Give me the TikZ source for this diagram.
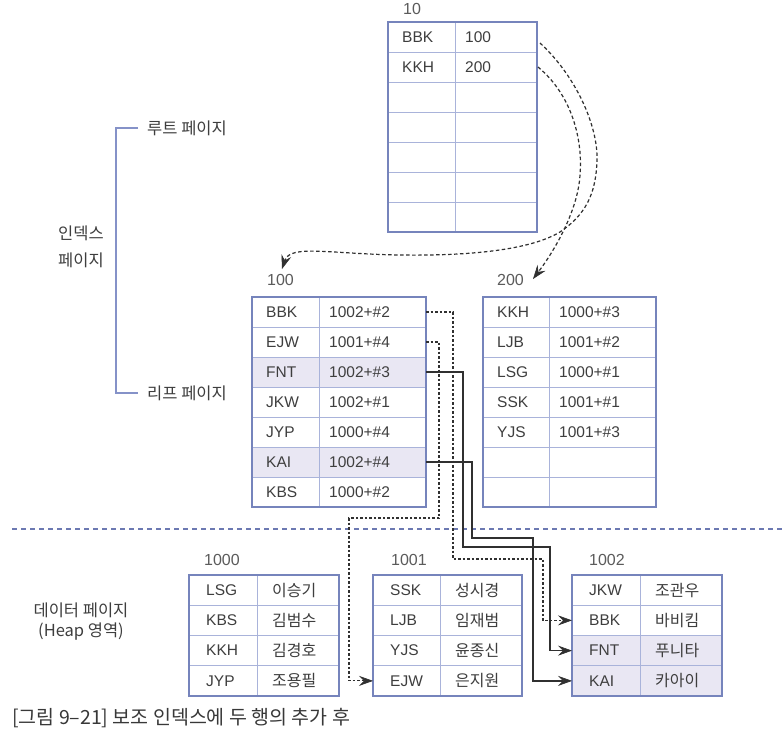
\documentclass[tikz,border=0pt]{standalone}
\usepackage{fontspec}
\setmainfont{Liberation Sans}
\newfontfamily\kr{Noto Sans CJK KR}
\usetikzlibrary{arrows.meta,calc}
\definecolor{gridout}{HTML}{7684BC}
\definecolor{gridin}{HTML}{A9B3DA}
\definecolor{hl}{HTML}{E9E7F3}
\definecolor{txt}{HTML}{3E3E3E}
\definecolor{conn}{HTML}{303030}
\definecolor{sep}{HTML}{6C79B2}
\definecolor{brk}{HTML}{8592C8}
\tikzset{
  >={Stealth[length=14pt,width=10pt,inset=5pt,fill=conn,line width=0.6pt]},
  rowcell/.style={rectangle, draw=gridin, line width=0.9pt, inner sep=0pt, outer sep=0pt},
  celltxt/.style={inner sep=0pt, text=txt, font=\fontsize{15.5}{18}\selectfont},
  plabel/.style={inner sep=0pt, text=txt!85, font=\fontsize{16}{18}\selectfont},
  side/.style={inner sep=0pt, text=txt, font=\kr\fontsize{16.5}{27}\selectfont, align=center},
  gridline/.style={draw=gridin, line width=0.9pt},
  outerline/.style={draw=gridout, line width=1.8pt},
  curveconn/.style={->, draw=conn, line width=1.2pt, dash pattern=on 3.5pt off 2.5pt},
  dconn/.style={->, draw=conn, line width=1.2pt, dash pattern=on 2.5pt off 2pt},
  sconn/.style={->, draw=conn, line width=1.5pt},
  sepline/.style={draw=sep, line width=1.5pt, dash pattern=on 5pt off 4pt},
  bracketline/.style={draw=brk, line width=1.2pt},
}
\newcommand{\pagetab}[8]{%
  \pgfmathsetmacro\rh{(#6-#3)/#7}%
  \foreach \a/\b/\c [count=\i] in {#8} {%
    \pgfmathsetmacro\yc{#3+(\i-0.5)*\rh}%
    \node[rowcell, fill=\c, minimum width={(#5-#2)*1pt}, minimum height={\rh*1pt}] (#1-\i) at ({(#2+#5)/2},\yc) {};
    \node[celltxt, anchor=west] at ({#2+\offa},\yc) {\a};
    \node[celltxt, anchor=west] at ({#4+\offb},\yc) {\b};
  }%
  \draw[gridline] (#4,#3) -- (#4,#6);
  \draw[outerline] (#2,#3) rectangle (#5,#6);
}
\begin{document}
\begin{tikzpicture}[x=1pt,y=-1pt]
\useasboundingbox[fill=white] (0,0) rectangle (782,732);

% index pages
\def\offa{14}\def\offb{10}
\pagetab{r10}{388}{22}{455}{537}{232}{7}{BBK/100/white, KKH/200/white, {}/{}/white, {}/{}/white, {}/{}/white, {}/{}/white, {}/{}/white}
\pagetab{l100}{252}{297}{319}{426}{507}{7}{BBK/1002+\#2/white, EJW/1001+\#4/white, FNT/1002+\#3/hl, JKW/1002+\#1/white, JYP/1000+\#4/white, KAI/1002+\#4/hl, KBS/1000+\#2/white}
\pagetab{l200}{483}{297}{549}{656}{507}{7}{KKH/1000+\#3/white, LJB/1001+\#2/white, LSG/1000+\#1/white, SSK/1001+\#1/white, YJS/1001+\#3/white, {}/{}/white, {}/{}/white}

% data pages
\def\offa{17}\def\offb{15}
\pagetab{d1000}{189}{575}{257}{339}{696}{4}{LSG/{\kr\fontsize{16}{18}\selectfont 이승기}/white, KBS/{\kr\fontsize{16}{18}\selectfont 김범수}/white, KKH/{\kr\fontsize{16}{18}\selectfont 김경호}/white, JYP/{\kr\fontsize{16}{18}\selectfont 조용필}/white}
\pagetab{d1001}{373}{575}{440}{522}{696}{4}{SSK/{\kr\fontsize{16}{18}\selectfont 성시경}/white, LJB/{\kr\fontsize{16}{18}\selectfont 임재범}/white, YJS/{\kr\fontsize{16}{18}\selectfont 윤종신}/white, EJW/{\kr\fontsize{16}{18}\selectfont 은지원}/white}
\pagetab{d1002}{572}{575}{640}{722}{696}{4}{JKW/{\kr\fontsize{16}{18}\selectfont 조관우}/white, BBK/{\kr\fontsize{16}{18}\selectfont 바비킴}/white, FNT/{\kr\fontsize{16}{18}\selectfont 푸니타}/hl, KAI/{\kr\fontsize{16}{18}\selectfont 카아이}/hl}

% page labels
\node[plabel, anchor=west] (lab10) at (403,9) {10};
\node[plabel, anchor=west] (lab100) at (267,280) {100};
\node[plabel, anchor=west] (lab200) at (497,280) {200};
\node[plabel, anchor=west] (lab1000) at (204,560) {1000};
\node[plabel, anchor=west] (lab1001) at (391,560) {1001};
\node[plabel, anchor=west] (lab1002) at (589,560) {1002};

% side labels
\node[side, anchor=west] (lroot) at (147,128) {루트 페이지};
\node[side, anchor=west] (lleaf) at (147,393) {리프 페이지};
\node[side] (lindex) at (81,247) {인덱스\\페이지};
\node[side, font=\kr\fontsize{16.5}{20}\selectfont] (ldata) at (81,622) {데이터 페이지\\(Heap 영역)};
\draw[bracketline] ([xshift=-9pt]lroot.west) -- (116,128) -- (116,393) -- ([xshift=-9pt]lleaf.west);

% separator
\draw[sepline] (12,529) -- (782,529);

% root -> leaf curves
\coordinate (t100) at (282,269);
\coordinate (t200) at (533,279);
\draw[curveconn] ([shift={(3,6)}]r10-1.east) .. controls (575,75) and (598,125) .. (597,160)
  .. controls (596,195) and (585,215) .. (560,232)
  .. controls (530,250) and (470,256) .. (400,255)
  .. controls (330,254) and (290,244) .. (t100);
\draw[curveconn] ([shift={(1,0)}]r10-2.east) .. controls (572,95) and (583,140) .. (580,175)
  .. controls (578,210) and (555,250) .. (t200);

% leaf -> data connectors
\coordinate (b1a) at (453,559); \coordinate (b1b) at (543,559);
\coordinate (b2a) at (439,518); \coordinate (b2b) at (349,518);
\coordinate (b3a) at (463,547); \coordinate (b3b) at (550,547);
\coordinate (b4a) at (472,538); \coordinate (b4b) at (533,538);
\draw[dconn] (l100-1.east) -| (b1a) -- (b1b) |- (d1002-2.west);
\draw[dconn] (l100-2.east) -| (b2a) -- (b2b) |- (d1001-4.west);
\draw[sconn] (l100-3.east) -| (b3a) -- (b3b) |- (d1002-3.west);
\draw[sconn] (l100-6.east) -| (b4a) -- (b4b) |- (d1002-4.west);

% caption
\node[anchor=west, inner sep=0pt, text=txt!90!black, font=\kr\fontsize{19.5}{22}\selectfont] (cap) at (12,718) {[그림 9–21] 보조 인덱스에 두 행의 추가 후};
\end{tikzpicture}
\end{document}
